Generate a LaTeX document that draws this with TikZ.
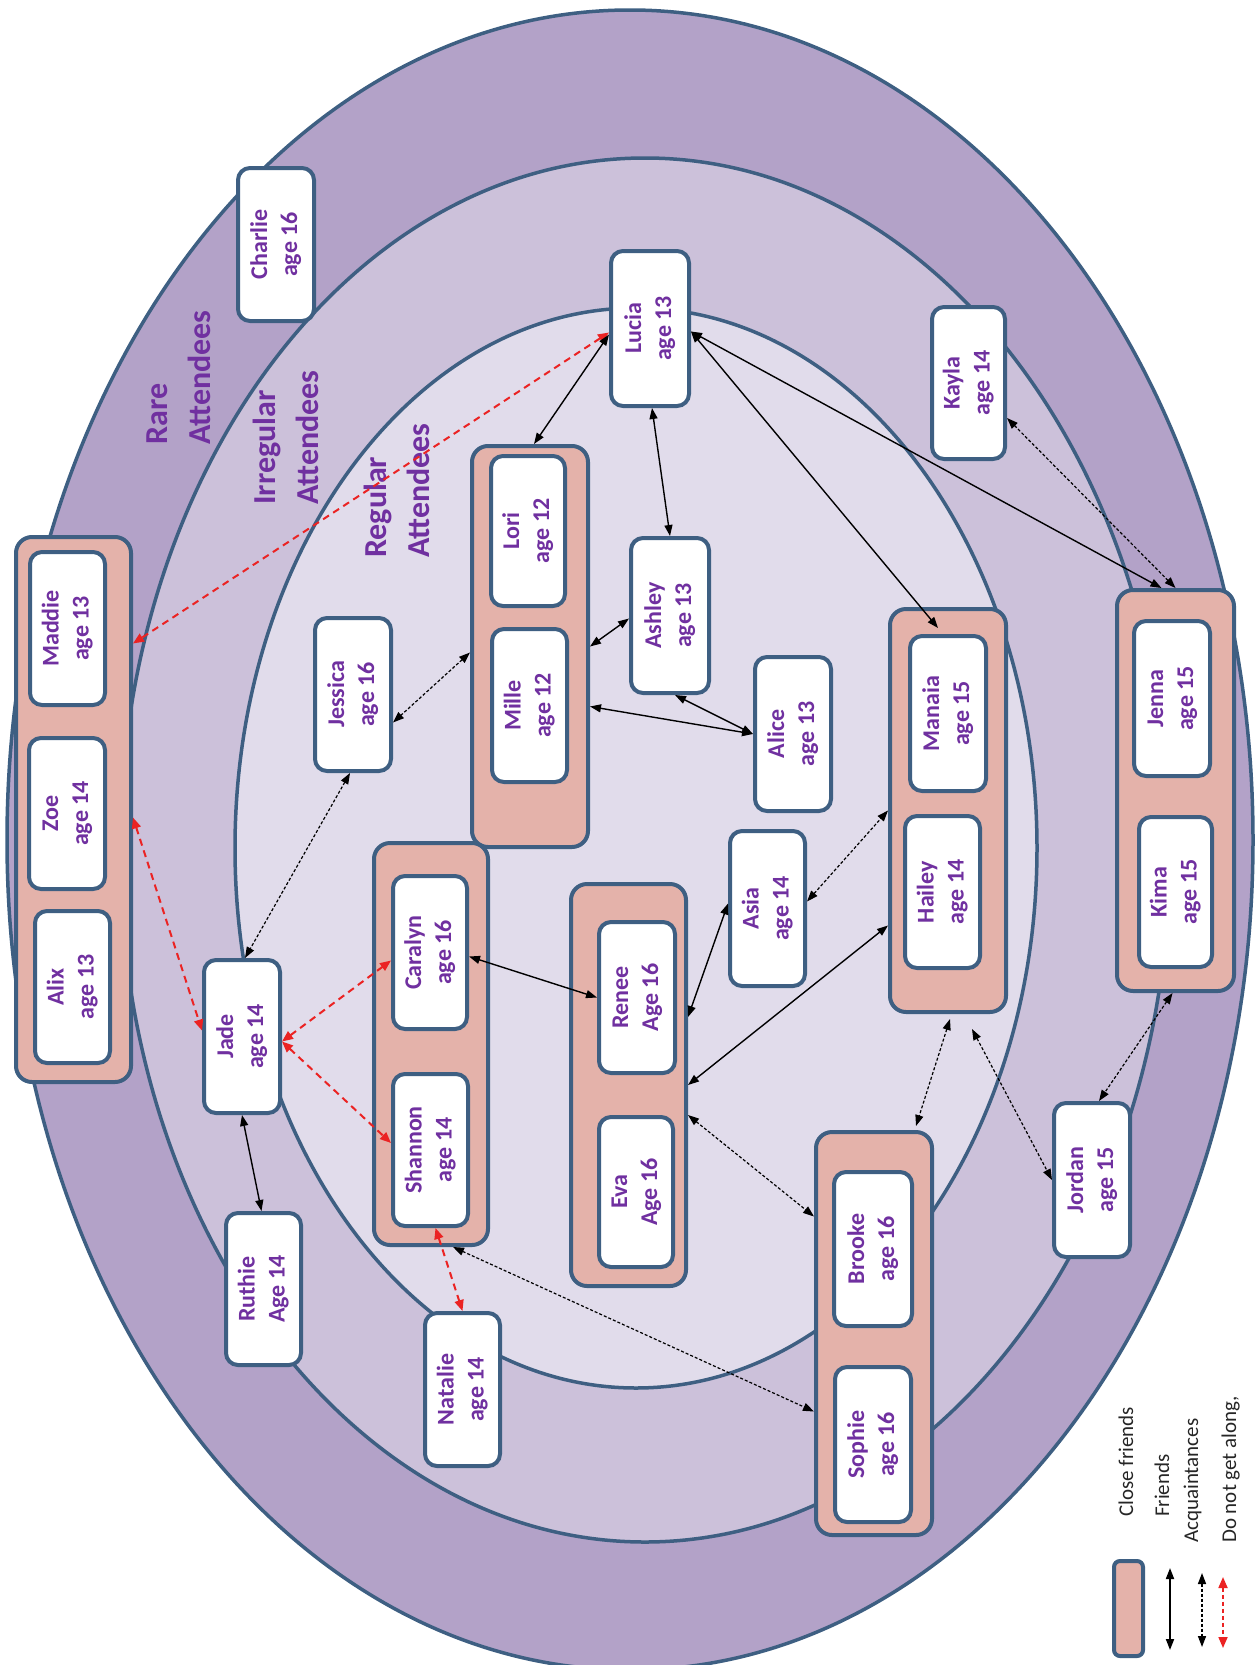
\documentclass[tikz,border=0pt]{standalone}
\usepackage{fontspec}
\setmainfont{Carlito}
\usetikzlibrary{arrows.meta,calc}
\definecolor{ringA}{RGB}{179,162,200}
\definecolor{ringB}{RGB}{204,193,218}
\definecolor{ringC}{RGB}{225,220,235}
\definecolor{edgec}{RGB}{62,95,130}
\definecolor{pinkbox}{RGB}{228,178,170}
\definecolor{txtp}{RGB}{112,48,160}
\definecolor{redline}{RGB}{235,35,35}
\newcommand{\twoline}[2]{\rotatebox{90}{\begin{tabular}{@{}c@{}}#1\\#2\end{tabular}}}
\newcommand{\ringlab}[2]{\rotatebox{90}{\begin{tabular}{@{}l@{}}#1\\#2\end{tabular}}}
\begin{document}
\begin{tikzpicture}[x=1pt,y=-1pt,
  person/.style={draw=edgec, line width=4pt, fill=white, rounded corners=12pt, inner sep=0pt,
    font=\bfseries\fontsize{24}{30}\selectfont, text=txtp},
  group/.style={draw=edgec, line width=4pt, fill=pinkbox, rounded corners=16pt, inner sep=0pt},
  ring/.style={draw=edgec, line width=3.5pt},
  ringtext/.style={inner sep=0pt, anchor=south west, font=\bfseries\fontsize{32}{43}\selectfont, text=txtp},
  legtext/.style={inner sep=0pt, rotate=90, anchor=base west, font=\fontsize{21}{25}\selectfont, text=black!85},
  friend/.style={{Triangle[length=11pt,width=8pt]}-{Triangle[length=11pt,width=8pt]}, line width=1.4pt, black},
  acq/.style={{Triangle[length=11pt,width=8pt]}-{Triangle[length=11pt,width=8pt]}, line width=1.2pt, black, dash pattern=on 3pt off 2pt},
  foe/.style={{Triangle[length=11pt,width=9pt]}-{Triangle[length=11pt,width=9pt]}, line width=2pt, redline, dash pattern=on 7pt off 5pt}]
\useasboundingbox (0,0) rectangle (1257,1665);
\begin{scope}
\clip (0,0) rectangle (1257,1665);
\fill[ringA] (630,840) ellipse [x radius=623, y radius=830];
\draw[ring] (630,840) ellipse [x radius=623, y radius=830];
\filldraw[ring, fill=ringB] (645,850) ellipse [x radius=525, y radius=692];
\filldraw[ring, fill=ringC] (636,848) ellipse [x radius=401, y radius=540];
\end{scope}
% ring labels
\node[ringtext] (rarelab) at (137,445) {\ringlab{Rare}{Attendees}};
\node[ringtext] (irrlab) at (245,505) {\ringlab{Irregular}{Attendees}};
\node[ringtext] (reglab) at (356,558) {\ringlab{Regular}{Attendees}};
% groups (close friends)
\node[group, minimum width=115, minimum height=545] (mz) at (73.5,809.5) {};
\node[group, minimum width=116, minimum height=401] (lm) at (530,646.5) {};
\node[group, minimum width=116, minimum height=403] (mh) at (948,810.5) {};
\node[group, minimum width=117, minimum height=401] (jk) at (1175.5,790.5) {};
\node[group, minimum width=114, minimum height=402] (cs) at (431,1044) {};
\node[group, minimum width=115, minimum height=402] (re) at (628.5,1085) {};
\node[group, minimum width=116, minimum height=403] (bs) at (874,1333.5) {};
% persons
\node[person, minimum width=76, minimum height=153] (charlie) at (276,244.5) {\twoline{Charlie}{age 16}};
\node[person, minimum width=78, minimum height=155] (lucia) at (650,328.5) {\twoline{Lucia}{age 13}};
\node[person, minimum width=73, minimum height=152] (kayla) at (968.5,383) {\twoline{Kayla}{age 14}};
\node[person, minimum width=75, minimum height=153] (maddie) at (67.5,628.5) {\twoline{Maddie}{age 13}};
\node[person, minimum width=76, minimum height=151] (zoe) at (67,813.5) {\twoline{Zoe}{age 14}};
\node[person, minimum width=75, minimum height=152] (alix) at (72.5,987) {\twoline{Alix}{age 13}};
\node[person, minimum width=76, minimum height=153] (jessica) at (353,694.5) {\twoline{Jessica}{age 16}};
\node[person, minimum width=74, minimum height=150] (lori) at (528,531) {\twoline{Lori}{age 12}};
\node[person, minimum width=75, minimum height=153] (mille) at (529.5,705.5) {\twoline{Mille}{age 12}};
\node[person, minimum width=78, minimum height=155] (ashley) at (670,615.5) {\twoline{Ashley}{age 13}};
\node[person, minimum width=76, minimum height=154] (alice) at (793,734) {\twoline{Alice}{age 13}};
\node[person, minimum width=75, minimum height=155] (asia) at (767.5,908.5) {\twoline{Asia}{age 14}};
\node[person, minimum width=76, minimum height=155] (manaia) at (948,713.5) {\twoline{Manaia}{age 15}};
\node[person, minimum width=75, minimum height=152] (hailey) at (942.5,892) {\twoline{Hailey}{age 14}};
\node[person, minimum width=76, minimum height=155] (jenna) at (1172,698.5) {\twoline{Jenna}{age 15}};
\node[person, minimum width=73, minimum height=150] (kima) at (1175.5,892) {\twoline{Kima}{age 15}};
\node[person, minimum width=74, minimum height=153] (caralyn) at (430,952.5) {\twoline{Caralyn}{age 16}};
\node[person, minimum width=75, minimum height=152] (shannon) at (430.5,1150) {\twoline{Shannon}{age 14}};
\node[person, minimum width=76, minimum height=151] (renee) at (637,997.5) {\twoline{Renee}{Age 16}};
\node[person, minimum width=74, minimum height=150] (eva) at (636,1192) {\twoline{Eva}{Age 16}};
\node[person, minimum width=76, minimum height=153] (jade) at (242,1036.5) {\twoline{Jade}{age 14}};
\node[person, minimum width=75, minimum height=152] (ruthie) at (263.5,1289) {\twoline{Ruthie}{Age 14}};
\node[person, minimum width=75, minimum height=153] (natalie) at (462.5,1389.5) {\twoline{Natalie}{age 14}};
\node[person, minimum width=78, minimum height=154] (brooke) at (873,1249) {\twoline{Brooke}{age 16}};
\node[person, minimum width=76, minimum height=155] (sophie) at (873,1444.5) {\twoline{Sophie}{age 16}};
\node[person, minimum width=76, minimum height=154] (jordan) at (1092,1180) {\twoline{Jordan}{age 15}};
% connectors
\draw[foe] ([yshift=-4]lucia.west) -- ([yshift=166]mz.east);
\draw[friend] ([yshift=-6]lucia.west) -- ([xshift=4]lm.north);
\draw[friend] ([xshift=2]lucia.south) -- (ashley.north);
\draw[friend] ([yshift=-3]lucia.east) -- ([xshift=-10,yshift=6]manaia.north);
\draw[friend] ([yshift=-3]lucia.east) -- ([xshift=-14]jk.north);
\draw[acq] ([yshift=-35]kayla.east) -- (jk.north);
\draw[acq] ([yshift=-6]lm.west) -- ([yshift=-28]jessica.east);
\draw[acq] ([xshift=-3]jessica.south) -- ([xshift=3]jade.north);
\draw[friend] (lm.east) -- ([yshift=-3]ashley.west);
\draw[friend] ([yshift=-60]lm.east) -- (alice.west);
\draw[friend] ([xshift=5]ashley.south) -- (alice.west);
\draw[foe] ([yshift=-8]mz.east) -- ([yshift=6]jade.west);
\draw[foe] ([yshift=-5]jade.east) -- ([yshift=-8]caralyn.west);
\draw[foe] ([yshift=-5]jade.east) -- ([yshift=7]shannon.west);
\draw[friend] (jade.south) -- ([xshift=-2]ruthie.north);
\draw[foe] ([xshift=5]shannon.south) -- (natalie.north);
\draw[acq] ([xshift=22]cs.south) -- ([yshift=-78]bs.west);
\draw[friend] ([yshift=-4]caralyn.east) -- (renee.west);
\draw[friend] ([yshift=68]re.east) -- ([yshift=5]asia.west);
\draw[friend] (re.east) -- ([yshift=-115]mh.west);
\draw[acq] ([yshift=7]asia.east) -- (mh.west);
\draw[acq] ([yshift=-30]re.east) -- ([yshift=117]bs.west);
\draw[acq] ([xshift=2,yshift=-5]mh.south) -- ([xshift=42,yshift=4]bs.north);
\draw[acq] ([xshift=24,yshift=-15]mh.south) -- (jordan.west);
\draw[acq] ([xshift=-3]jk.south) -- ([xshift=7]jordan.north);
% legend
\node[group, rounded corners=6pt, minimum width=29, minimum height=95] (legbox) at (1128.5,1608.5) {};
\coordinate (lf1) at (1170,1568);
\coordinate (lf2) at (1170,1650);
\coordinate (la1) at (1202,1573);
\coordinate (la2) at (1202,1647);
\coordinate (lr1) at (1223,1577);
\coordinate (lr2) at (1223,1648);
\draw[friend, line width=1.8pt] (lf1) -- (lf2);
\draw[acq, line width=1.5pt] (la1) -- (la2);
\draw[foe, line width=1.8pt, dash pattern=on 4pt off 3pt] (lr1) -- (lr2);
\node[legtext] (lt1) at (1133,1517) {Close friends};
\node[legtext] (lt2) at (1169,1517) {Friends};
\node[legtext] (lt3) at (1198,1543) {Acquaintances};
\node[legtext] (lt4) at (1236,1543) {Do not get along,};
\end{tikzpicture}
\end{document}
